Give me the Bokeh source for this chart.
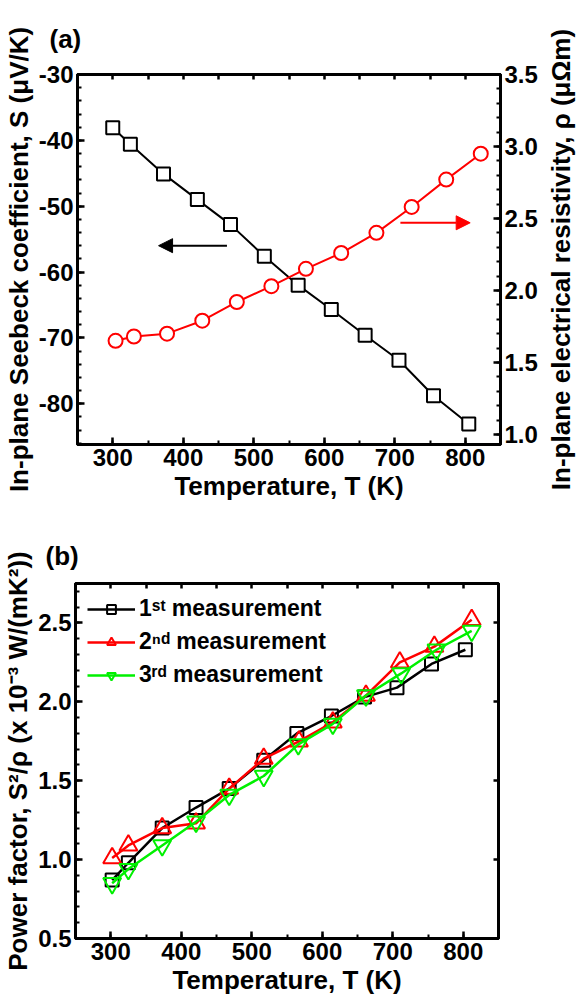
import math
from bokeh.plotting import figure
from bokeh.models import (Range1d, LinearAxis, Arrow, NormalHead, Legend, LegendItem,
                          Title, SingleIntervalTicker, FixedTicker, PrintfTickFormatter,
                          CustomJSTickFormatter)
from bokeh.layouts import column, row
from bokeh.embed import file_html
from bokeh.resources import INLINE

# ---------------- data ----------------
# (a) Seebeck coefficient (left axis) and resistivity (right axis)
T_S = [300, 325, 372, 420, 467, 515, 563, 610, 658, 706, 755, 805]
S_vals = [-38.1, -40.6, -45.1, -49.0, -52.8, -57.6, -62.0, -65.7, -69.6, -73.4, -78.8, -83.1]
T_rho = [304, 330, 377, 427, 476, 525, 574, 624, 674, 724, 773, 822]
rho_vals = [1.65, 1.68, 1.70, 1.79, 1.92, 2.03, 2.15, 2.26, 2.40, 2.58, 2.77, 2.95]

# arrows (a)
arrow_S = dict(x_start=462, x_end=365, y=-56.0)
arrow_rho = dict(x_start=708, x_end=807, y=2.47)

# (b) power factor, three measurements
T_pf1 = [302, 325, 373, 421, 468, 517, 564, 613, 660, 706, 755, 803]
pf1 = [0.87, 0.98, 1.20, 1.33, 1.45, 1.63, 1.80, 1.91, 2.03, 2.09, 2.24, 2.33]
T_pf2 = [302, 325, 373, 421, 468, 517, 567, 615, 662, 710, 759, 812]
pf2 = [1.01, 1.09, 1.20, 1.23, 1.45, 1.64, 1.75, 1.87, 2.04, 2.25, 2.35, 2.52]
T_pf3 = [302, 325, 373, 421, 468, 517, 566, 615, 662, 712, 762, 812]
pf3 = [0.85, 0.94, 1.09, 1.24, 1.41, 1.53, 1.73, 1.86, 2.04, 2.18, 2.33, 2.45]

legend_labels = ["1\u02e2\u1d57 measurement", "2\u207f\u1d48 measurement", "3\u02b3\u1d48 measurement"]
right_label = "In-plane electrical resistivity, \u03c1 (\u03bc\u03a9m)"

FONT = "Liberation Sans"
GREEN = "#00f000"
TICK_FS = "24px"
LABEL_FS = "26px"
FW = 423
FH1 = 370
FH2 = 355


def style_axis(ax, labels=True, minor=True):
    ax.axis_line_width = 3
    ax.axis_line_color = "black"
    ax.major_tick_in = 7
    ax.major_tick_out = 0
    ax.minor_tick_in = 4 if minor else 0
    ax.minor_tick_out = 0
    ax.major_tick_line_width = 2.5
    ax.minor_tick_line_width = 2
    ax.major_label_text_font = FONT
    ax.major_label_text_font_style = "bold"
    ax.major_label_text_color = "black"
    ax.major_label_text_font_size = TICK_FS
    ax.axis_label_text_font = FONT
    ax.axis_label_text_font_style = "bold"
    ax.axis_label_text_font_size = LABEL_FS
    ax.axis_label_text_color = "black"
    ax.axis_label_standoff = 2
    if labels:
        ax.major_label_standoff = 4
    else:
        ax.formatter = CustomJSTickFormatter(code="return ''")
        ax.major_label_standoff = 0


def base_fig(x_rng, y_rng, top, bottom, fh, right=74):
    p = figure(frame_width=FW, frame_height=fh, x_range=x_rng, y_range=y_rng,
               output_backend="svg", toolbar_location=None,
               min_border_left=74, min_border_right=right,
               min_border_top=top, min_border_bottom=bottom)
    p.xgrid.visible = False
    p.ygrid.visible = False
    p.outline_line_color = "black"
    p.outline_line_width = 3
    p.outline_line_alpha = 1
    p.background_fill_color = "white"
    p.border_fill_color = "white"
    return p


# ---------------- panel (a) ----------------
p1 = base_fig(Range1d(250, 850), Range1d(-86.2, -30), 65, 61, FH1, right=42)
p1.extra_y_ranges = {"rho": Range1d(0.93, 3.5)}

p1.xaxis.ticker = SingleIntervalTicker(interval=100, num_minor_ticks=2)
p1.yaxis.ticker = SingleIntervalTicker(interval=10, num_minor_ticks=5)
style_axis(p1.xaxis[0])
style_axis(p1.yaxis[0])
p1.yaxis.formatter = PrintfTickFormatter(format="%d")
p1.xaxis.axis_label = "Temperature, T (K)"
p1.yaxis.axis_label = "In-plane Seebeck coefficient, S (\u03bcV/K)"

ax_r = LinearAxis(y_range_name="rho", ticker=SingleIntervalTicker(interval=0.5, num_minor_ticks=5))
style_axis(ax_r)
ax_r.formatter = PrintfTickFormatter(format="%.1f")
p1.add_layout(ax_r, "right")

ax_t = LinearAxis(ticker=SingleIntervalTicker(interval=50, num_minor_ticks=0))
style_axis(ax_t, labels=False)
ax_t.major_tick_in = 5
p1.add_layout(ax_t, "above")

p1.line(T_S, S_vals, line_color="black", line_width=2)
p1.scatter(T_S, S_vals, marker="square", size=13, line_color="black", line_width=2,
           fill_color="white")
p1.line(T_rho, rho_vals, line_color="red", line_width=2, y_range_name="rho")
p1.scatter(T_rho, rho_vals, marker="circle", size=14, line_color="red", line_width=2,
           fill_color="white", y_range_name="rho")

p1.add_layout(Arrow(end=NormalHead(size=14, fill_color="black", line_color="black"),
                    x_start=arrow_S["x_start"], y_start=arrow_S["y"],
                    x_end=arrow_S["x_end"], y_end=arrow_S["y"],
                    line_color="black", line_width=2))
p1.add_layout(Arrow(end=NormalHead(size=14, fill_color="red", line_color="red"),
                    x_start=arrow_rho["x_start"], y_start=arrow_rho["y"],
                    x_end=arrow_rho["x_end"], y_end=arrow_rho["y"],
                    line_color="red", line_width=2, y_range_name="rho"))

p1.title = Title(text="(a)", align="left", offset=-28, standoff=42,
                 text_font=FONT, text_font_style="bold", text_font_size="26px",
                 text_color="black")

# narrow companion figure carrying the right-hand axis title (reads bottom-to-top)
p_lab = figure(frame_width=1, frame_height=FH1, x_range=Range1d(0, 1), y_range=Range1d(0, 1),
               output_backend="svg", toolbar_location=None,
               min_border_left=30, min_border_right=0,
               min_border_top=65, min_border_bottom=61)
p_lab.xaxis.visible = False
p_lab.xgrid.visible = False
p_lab.ygrid.visible = False
p_lab.outline_line_color = None
p_lab.background_fill_color = "white"
p_lab.border_fill_color = "white"
p_lab.yaxis.ticker = FixedTicker(ticks=[])
p_lab.yaxis.axis_line_color = None
p_lab.yaxis.major_tick_line_color = None
p_lab.yaxis.minor_tick_line_color = None
p_lab.yaxis.axis_label = right_label
p_lab.yaxis.axis_label_text_font = FONT
p_lab.yaxis.axis_label_text_font_style = "bold"
p_lab.yaxis.axis_label_text_font_size = LABEL_FS
p_lab.yaxis.axis_label_text_color = "black"
p_lab.yaxis.axis_label_standoff = 0

# ---------------- panel (b) ----------------
p2 = base_fig(Range1d(250, 850), Range1d(0.5, 2.75), 78, 61, FH2)
p2.xaxis.ticker = SingleIntervalTicker(interval=100, num_minor_ticks=2)
p2.yaxis.ticker = SingleIntervalTicker(interval=0.5, num_minor_ticks=5)
style_axis(p2.xaxis[0])
style_axis(p2.yaxis[0])
p2.yaxis.formatter = PrintfTickFormatter(format="%.1f")
p2.xaxis.axis_label = "Temperature, T (K)"
p2.yaxis.axis_label = "Power factor, S\u00b2/\u03c1 (x 10\u207b\u00b3 W/(mK\u00b2))"

ax_t2 = LinearAxis(ticker=SingleIntervalTicker(interval=50, num_minor_ticks=0))
style_axis(ax_t2, labels=False)
ax_t2.major_tick_in = 5
p2.add_layout(ax_t2, "above")
ax_r2 = LinearAxis(ticker=SingleIntervalTicker(interval=0.5, num_minor_ticks=0))
style_axis(ax_r2, labels=False, minor=False)
ax_r2.major_tick_in = 5
p2.add_layout(ax_r2, "right")

items = []
for T, pf, col, mk, lab in [(T_pf1, pf1, "black", "square", legend_labels[0]),
                            (T_pf2, pf2, "red", "triangle", legend_labels[1]),
                            (T_pf3, pf3, GREEN, "inverted_triangle", legend_labels[2])]:
    rl = p2.line(T, pf, line_color=col, line_width=2.5)
    sz = 13 if mk == "square" else 18
    rm = p2.scatter(T, pf, marker=mk, size=sz, line_color=col, line_width=2,
                    fill_color=None)
    items.append(LegendItem(label=lab, renderers=[rl, rm]))

leg = Legend(items=items, location="top_left", border_line_alpha=0,
             background_fill_alpha=0, label_text_font=FONT,
             label_text_font_style="bold", label_text_font_size="23px",
             label_text_color="black", glyph_width=48, glyph_height=22,
             spacing=6, padding=2, margin=10, label_standoff=4)
p2.add_layout(leg)

p2.title = Title(text="(b)", align="left", offset=-30, standoff=26,
                 text_font=FONT, text_font_style="bold", text_font_size="26px",
                 text_color="black")

layout = column(row(p1, p_lab, spacing=0), p2, spacing=0)
open("out.html", "w").write(file_html(layout, INLINE))
